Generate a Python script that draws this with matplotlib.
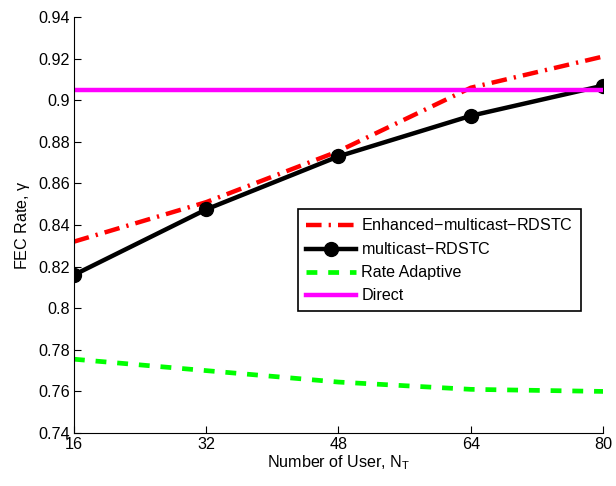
import numpy as np
import matplotlib
matplotlib.use('Agg')
import matplotlib.pyplot as plt

##Data

users=[16,32,48,64,80]
enhanced=[0.832,0.851,0.8755,0.906,0.921]
multicast=[0.816,0.8475,0.873,0.8925,0.907]
rate_adaptive=[0.7755,0.770,0.7645,0.761,0.760]
direct=[0.905,0.905,0.905,0.905,0.905]

##Plot

plt.rcParams['font.family']=['Liberation Sans','DejaVu Sans']
plt.rcParams['font.size']=11.6
plt.rcParams['mathtext.fontset']='custom'
plt.rcParams['mathtext.rm']='Liberation Sans'
plt.rcParams['mathtext.it']='Liberation Sans'

fig=plt.figure(figsize=(6.16,4.86),dpi=100)
ax=fig.add_axes([0.120,0.109,0.859,0.856])

ax.plot(users,enhanced,color='red',lw=3.2,ls=(0,(3.5,1.6,0.5,1.6)),label='Enhanced$-$multicast$-$RDSTC')
ax.plot(users,multicast,color='black',lw=3.2,marker='o',ms=10,label='multicast$-$RDSTC')
ax.plot(users,rate_adaptive,color='#00ff00',lw=3.4,ls=(0,(2.3,2.3)),label='Rate Adaptive')
ax.plot(users,direct,color='magenta',lw=3.2,label='Direct')

ax.set_xlim(16,80)
ax.set_ylim(0.74,0.94)
ax.set_xticks(users)
ax.set_yticks(np.arange(0.74,0.9401,0.02))
ax.set_yticklabels(['0.74','0.76','0.78','0.8','0.82','0.84','0.86','0.88','0.9','0.92','0.94'])
ax.tick_params(direction='in',length=5,width=0.8,pad=3)
ax.spines['top'].set_visible(False)
ax.spines['right'].set_visible(False)

ax.set_xlabel('Number of User, N$_\\mathrm{T}$',labelpad=1)
ax.set_ylabel('FEC Rate, $\\gamma$',labelpad=4)

leg=ax.legend(loc='upper left',bbox_to_anchor=(0.423,0.538),borderaxespad=0,handlelength=3.1,fancybox=False,
              borderpad=0.5,labelspacing=0.5,handletextpad=0.35,framealpha=1)
leg.get_frame().set_edgecolor('black')
leg.get_frame().set_linewidth(1.2)

plt.savefig('out.png',dpi=100)
